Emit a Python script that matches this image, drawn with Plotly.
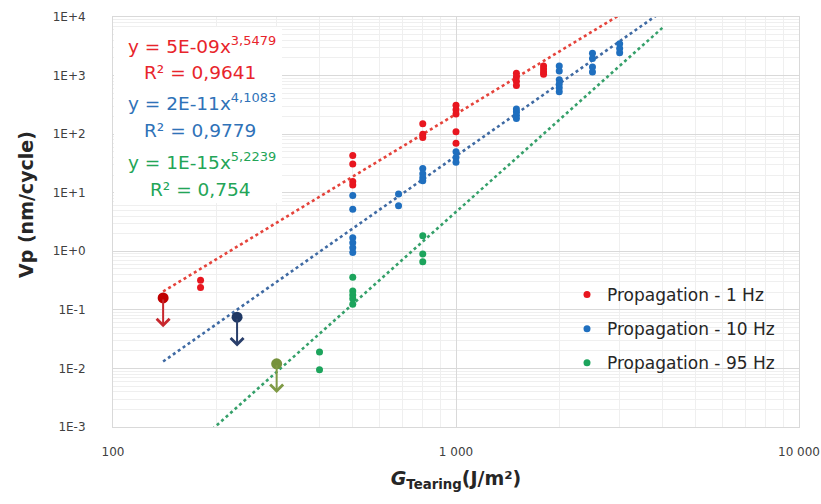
import math
import plotly.graph_objects as go

# Measured crack propagation rates (Vp, nm/cycle) vs tearing energy (G, J/m²)
g_1hz = [180, 180, 500, 500, 500, 500, 800, 800, 800,
         1000, 1000, 1000, 1000, 1000, 1500, 1500, 1500, 1500,
         1800, 1800, 1800, 1800]
vp_1hz = [0.32, 0.24, 43, 31, 15.5, 13.5, 150, 100, 88,
          310, 260, 220, 110, 70, 1100, 950, 800, 680,
          1450, 1300, 1150, 1050]

g_10hz = [500, 500, 500, 500, 500, 500, 680, 680, 800, 800, 800, 800,
          1000, 1000, 1000, 1500, 1500, 1500, 1500,
          2000, 2000, 2000, 2000, 2000, 2000, 2500, 2500, 2500, 2500,
          3000, 3000, 3000]
vp_10hz = [9.0, 5.2, 1.7, 1.4, 1.15, 0.95, 9.5, 6.0, 26, 21, 18, 16,
           50, 40, 33, 270, 240, 210, 185,
           1450, 1200, 850, 720, 620, 530, 2400, 1950, 1400, 1150,
           3500, 2900, 2450]

g_95hz = [400, 400, 500, 500, 500, 500, 500, 800, 800, 800]
vp_95hz = [0.019, 0.0095, 0.36, 0.21, 0.18, 0.155, 0.125, 1.85, 0.9, 0.66]

# Threshold points (no propagation below): one per frequency
g_threshold = [140, 230, 300]
vp_threshold = [0.16, 0.075, 0.012]

# Power-law fits  Vp = a * G^b
fit_a = [5e-9, 2e-11, 1e-15]
fit_b = [3.5479, 4.1083, 5.2239]
fit_r2 = [0.9641, 0.9779, 0.754]
fit_g_range = [140, 4000]

names = ["Propagation - 1 Hz", "Propagation - 10 Hz", "Propagation - 95 Hz"]
g_sets = [g_1hz, g_10hz, g_95hz]
vp_sets = [vp_1hz, vp_10hz, vp_95hz]

point_colors = ["#e8161f", "#1f6fbf", "#1ca45c"]
fit_colors = ["#e5433b", "#3f6aa3", "#35a06a"]
text_colors = ["#e8242b", "#2f72b8", "#23a557"]
threshold_colors = ["#c00000", "#1f3864", "#76923c"]
arrow_colors = ["#c8282e", "#2a3f6b", "#7f9a45"]

W, H = 821, 504
ML, MR, MT, MB = 113, 22, 17, 77
PW, PH = W - ML - MR, H - MT - MB


def xp(px):
    return (px - ML) / PW


def yp(py):
    return 1 - (py - MT) / PH


fig = go.Figure()

# fitted trend lines (dotted)
for a, b, c in zip(fit_a, fit_b, fit_colors):
    fig.add_trace(go.Scatter(
        x=fit_g_range, y=[a * g ** b for g in fit_g_range],
        mode="lines", line=dict(color=c, width=2.6, dash="dot"),
        showlegend=False, hoverinfo="skip"))

# measured points
for i, (n, gs, vs, c) in enumerate(zip(names, g_sets, vp_sets, point_colors)):
    fig.add_trace(go.Scatter(
        x=gs, y=vs, mode="markers", name=n, legendgroup=f"g{i}",
        marker=dict(color=c, size=7, line=dict(width=0))))

# threshold points with downward arrows
for g, v, mc, ac in zip(g_threshold, vp_threshold, threshold_colors, arrow_colors):
    fig.add_trace(go.Scatter(
        x=[g], y=[v], mode="markers", showlegend=False,
        marker=dict(color=mc, size=11, line=dict(width=0))))
    fig.add_annotation(
        x=math.log10(g), y=math.log10(v) - 0.5, xref="x", yref="y",
        ax=math.log10(g), ay=math.log10(v), axref="x", ayref="y",
        text="", showarrow=True, arrowhead=4, arrowsize=1.25,
        arrowwidth=2, arrowcolor=ac)

# white panel behind the fit equations
fig.add_shape(type="rect", xref="paper", yref="paper",
              x0=xp(114), x1=xp(282), y0=yp(203), y1=yp(27),
              fillcolor="white", line=dict(width=0), layer="above")

eq_rows = [(45, 72), (102, 130), (161, 190)]
for a, b, r2, c, (y1, y2) in zip(fit_a, fit_b, fit_r2, text_colors, eq_rows):
    exp_txt = f"{b:.4f}".replace(".", ",")
    r2_txt = f"{r2}".replace(".", ",")
    fig.add_annotation(
        xref="paper", yref="paper", x=xp(202), y=yp(y1),
        xanchor="center", yanchor="middle",
        text=f"y = {a:.0E}x<sup>{exp_txt}</sup>", showarrow=False,
        font=dict(family="DejaVu Sans", size=18.5, color=c))
    fig.add_annotation(
        xref="paper", yref="paper", x=xp(200), y=yp(y2),
        xanchor="center", yanchor="middle",
        text=f"R² = {r2_txt}", showarrow=False,
        font=dict(family="DejaVu Sans", size=18.5, color=c))

# y-axis title
fig.add_annotation(
    xref="paper", yref="paper", x=xp(26), y=yp(205),
    xanchor="center", yanchor="middle", textangle=-90,
    text="<b>Vp (nm/cycle)</b>", showarrow=False,
    font=dict(family="DejaVu Sans", size=19, color="#262626"))

x_minor = [m * 10 ** e for e in range(2, 4) for m in range(2, 10)]
y_minor = [m * 10.0 ** e for e in range(-3, 4) for m in range(2, 10)]
y_ticks = [10.0 ** k for k in range(-3, 5)]

grid_major = "#d9d9d9"
grid_minor = "#efefef"

fig.update_xaxes(
    type="log", range=[2, 4],
    tickmode="array", tickvals=[100, 1000, 10000],
    ticktext=["100", "1 000", "10 000"],
    tickfont=dict(family="DejaVu Sans", size=12, color="#404040"),
    showgrid=True, gridcolor=grid_major, gridwidth=1,
    minor=dict(tickmode="array", tickvals=x_minor, showgrid=True,
               gridcolor=grid_minor, gridwidth=1),
    showline=True, linecolor=grid_major, linewidth=1, mirror=True,
    ticks="", ticklabelstandoff=14,
    title=dict(text="<b><i>G</i><sub>Tearing</sub>(J/m²)</b>",
               font=dict(family="DejaVu Sans", size=19, color="#262626"),
               standoff=13))

fig.update_yaxes(
    type="log", range=[-3, 4],
    tickmode="array", tickvals=y_ticks,
    ticktext=[f"1E{k:+d}" for k in range(-3, 5)],
    tickfont=dict(family="DejaVu Sans", size=12, color="#404040"),
    showgrid=True, gridcolor=grid_major, gridwidth=1,
    minor=dict(tickmode="array", tickvals=y_minor, showgrid=True,
               gridcolor=grid_minor, gridwidth=1),
    showline=True, linecolor=grid_major, linewidth=1, mirror=True,
    ticks="", ticklabelstandoff=24)

fig.update_layout(
    width=W, height=H,
    margin=dict(l=ML, r=MR, t=MT, b=MB, autoexpand=False),
    paper_bgcolor="white", plot_bgcolor="white",
    showlegend=True,
    legend=dict(x=xp(567), y=yp(277), xanchor="left", yanchor="top",
                bgcolor="rgba(0,0,0,0)", traceorder="grouped",
                tracegroupgap=9, itemwidth=30,
                font=dict(family="DejaVu Sans", size=17, color="#262626")),
)

fig.write_html("out.html")
